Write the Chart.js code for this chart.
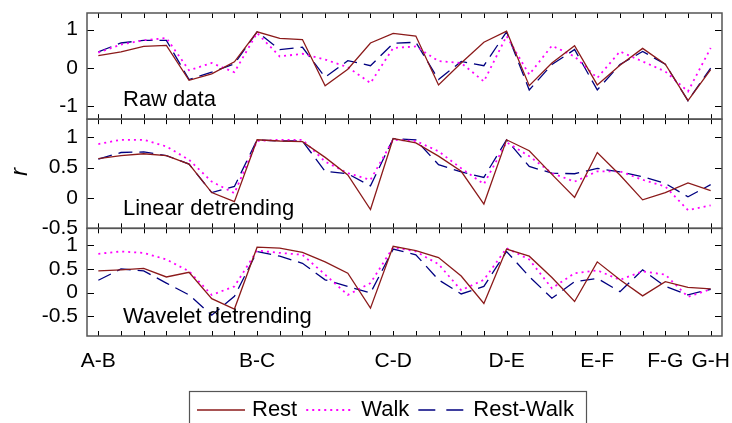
<!DOCTYPE html>
<html>
<head>
    <title>Correlation by segment</title>
    <script src="https://cdn.jsdelivr.net/npm/chart.js"></script>
    <style>
        body { margin: 0; background: #ffffff; }
    </style>
</head>
<body>
    <canvas id="corrChart" width="732" height="423"></canvas>
    <script>
    // one label per segment pair, only the first of each group is printed
    const segments = ['A-B', '', '', '', '', '', '',
                      'B-C', '', '', '', '', '',
                      'C-D', '', '', '', '',
                      'D-E', '', '', '',
                      'E-F', '', '',
                      'F-G', '',
                      'G-H'];

    const seriesNames = ['Rest', 'Walk', 'Rest-Walk'];
    const panelNames = ['Raw data', 'Linear detrending', 'Wavelet detrending'];

    const rawRest = [0.32, 0.42, 0.56, 0.59, -0.32, -0.15, 0.16, 0.94, 0.77, 0.74, -0.46, -0.03, 0.65, 0.90,
                     0.83, -0.44, 0.13, 0.67, 0.96, -0.46, 0.13, 0.58, -0.44, 0.07, 0.51, 0.10, -0.85, -0.04];
    const rawWalk = [0.40, 0.61, 0.72, 0.78, -0.06, 0.13, -0.11, 0.91, 0.30, 0.37, 0.22, 0.02, -0.39, 0.52,
                     0.56, 0.18, 0.13, -0.35, 0.83, -0.17, 0.58, 0.30, -0.26, 0.43, 0.17, -0.09, -0.61, 0.52];
    const rawRestWalk = [0.42, 0.65, 0.72, 0.72, -0.30, -0.11, 0.11, 0.94, 0.48, 0.54, -0.24, 0.19, 0.06, 0.64,
                         0.67, -0.30, 0.17, 0.06, 0.94, -0.57, 0.09, 0.48, -0.57, 0.09, 0.43, 0.10, -0.85, 0.00];

    const linRest = [0.65, 0.70, 0.73, 0.70, 0.56, 0.09, -0.06, 0.96, 0.94, 0.93, 0.67, 0.38, -0.19, 0.98,
                     0.91, 0.69, 0.44, -0.10, 0.96, 0.78, 0.39, 0.01, 0.75, 0.38, -0.03, 0.09, 0.25, 0.12];
    const linWalk = [0.89, 0.96, 0.96, 0.85, 0.63, 0.27, 0.08, 0.94, 0.96, 0.96, 0.60, 0.41, 0.30, 0.96,
                     0.94, 0.77, 0.49, 0.23, 0.92, 0.69, 0.41, 0.27, 0.44, 0.44, 0.30, 0.19, -0.20, -0.12];
    const linRestWalk = [0.64, 0.75, 0.76, 0.70, 0.56, 0.09, 0.19, 0.96, 0.94, 0.94, 0.44, 0.40, 0.20, 0.98,
                         0.96, 0.55, 0.43, 0.34, 0.96, 0.52, 0.41, 0.40, 0.49, 0.43, 0.35, 0.24, 0.02, 0.22];

    const wavRest = [0.46, 0.48, 0.51, 0.33, 0.43, -0.13, -0.35, 0.96, 0.94, 0.85, 0.65, 0.41, -0.33, 0.98,
                     0.89, 0.74, 0.35, -0.23, 0.92, 0.77, 0.32, -0.19, 0.65, 0.27, -0.07, 0.23, 0.11, 0.08];
    const wavWalk = [0.82, 0.87, 0.84, 0.70, 0.45, -0.05, 0.13, 0.89, 0.84, 0.80, 0.38, -0.05, 0.20, 0.96,
                     0.87, 0.60, 0.05, 0.27, 0.94, 0.70, 0.09, 0.41, 0.47, 0.27, 0.45, 0.38, -0.09, 0.07];
    const wavRestWalk = [0.26, 0.50, 0.46, 0.20, -0.05, -0.48, -0.08, 0.87, 0.77, 0.62, 0.27, 0.13, -0.01, 0.92,
                         0.80, 0.27, -0.03, 0.13, 0.87, 0.34, -0.12, 0.23, 0.30, 0.02, 0.48, 0.13, -0.05, 0.07];

    const rawTicks = [-1, 0, 1];
    const linTicks = [-0.5, 0, 0.5, 1];
    const wavTicks = [-0.5, 0, 0.5, 1];

    const FONT = '"Liberation Sans", Arial, sans-serif';
    const colors = ['#8b1a1a', '#ff00ff', '#000080'];
    const dashes = [[], [2, 4], [14, 7]];

    const panels = [
        { id: 'yRaw', data: [rawRest, rawWalk, rawRestWalk], ticks: rawTicks, min: -1.33, max: 1.43, h: 106, w: 3 },
        { id: 'yLin', data: [linRest, linWalk, linRestWalk], ticks: linTicks, min: -0.5, max: 1.3, h: 109, w: 2 },
        { id: 'yWav', data: [wavRest, wavWalk, wavRestWalk], ticks: wavTicks, min: -0.92, max: 1.36, h: 107.5, w: 1 }
    ];

    const datasets = [];
    panels.forEach(p => {
        p.data.forEach((values, k) => {
            datasets.push({
                label: seriesNames[k],
                data: values,
                yAxisID: p.id,
                borderColor: colors[k],
                backgroundColor: colors[k],
                borderDash: dashes[k],
                borderWidth: k === 1 ? 1.8 : 1.3,
                pointRadius: 0,
                tension: 0,
                fill: false
            });
        });
    });

    const scales = {
        x: {
            type: 'category',
            offset: true,
            grid: { display: false, drawTicks: false },
            border: { display: false },
            ticks: { autoSkip: false, maxRotation: 0, padding: 13, color: '#000', font: { size: 21, family: FONT } },
            afterFit: s => { s.height = 87; s.paddingLeft = 0; s.paddingRight = 0; }
        }
    };
    panels.forEach(p => {
        scales[p.id] = {
            type: 'linear',
            position: 'left',
            stack: 'panels',
            stackWeight: p.h,
            weight: p.w,
            min: p.min,
            max: p.max,
            grid: { display: false, drawTicks: false },
            border: { display: false },
            ticks: {
                autoSkip: false, padding: 9, color: '#000', font: { size: 21, family: FONT },
                callback: v => String(v)
            },
            afterBuildTicks: s => { s.ticks = p.ticks.map(v => ({ value: v })); },
            afterFit: s => { s.width = 87; s.paddingTop = 0; s.paddingBottom = 0; }
        };
    });

    // frames, inward tick marks, panel names, axis title and the boxed legend
    const decorations = {
        id: 'decorations',
        afterDatasetsDraw(chart) {
            const ctx = chart.ctx;
            const area = chart.chartArea;
            const xs = chart.scales.x;
            ctx.save();
            panels.forEach((p, n) => {
                const s = chart.scales[p.id];
                ctx.strokeStyle = '#000';
                ctx.lineWidth = 1;
                ctx.setLineDash([]);
                ctx.beginPath();
                for (let i = 0; i < xs.ticks.length; i++) {
                    const px = Math.round(xs.getPixelForTick(i)) + 0.5;
                    ctx.moveTo(px, s.top);
                    ctx.lineTo(px, s.top + 5);
                    ctx.moveTo(px, s.bottom);
                    ctx.lineTo(px, s.bottom - 5);
                }
                s.ticks.forEach(t => {
                    const py = Math.round(s.getPixelForValue(t.value)) + 0.5;
                    ctx.moveTo(area.left, py);
                    ctx.lineTo(area.left + 7, py);
                    ctx.moveTo(area.right, py);
                    ctx.lineTo(area.right - 7, py);
                });
                ctx.stroke();
                ctx.strokeStyle = '#555';
                ctx.lineWidth = 1.5;
                ctx.strokeRect(area.left, s.top, area.right - area.left, s.bottom - s.top);

                ctx.fillStyle = '#000';
                ctx.font = '22px ' + FONT;
                ctx.textAlign = 'left';
                ctx.textBaseline = 'alphabetic';
                ctx.fillText(panelNames[n], area.left + 36, s.bottom - 13);
            });

            // y title
            ctx.save();
            ctx.translate(20, 172);
            ctx.rotate(-Math.PI / 2);
            ctx.font = 'italic 24px ' + FONT;
            ctx.textAlign = 'center';
            ctx.textBaseline = 'middle';
            ctx.fillText('r', 0, 0);
            ctx.restore();

            // legend
            ctx.strokeStyle = '#555';
            ctx.lineWidth = 1.2;
            ctx.strokeRect(189.5, 391.5, 397, 40);
            ctx.font = '22px ' + FONT;
            ctx.textBaseline = 'middle';
            const ly = 410;
            let lx = 197;
            seriesNames.forEach((name, k) => {
                ctx.strokeStyle = colors[k];
                ctx.lineWidth = k === 1 ? 1.8 : 1.3;
                ctx.setLineDash(k === 2 ? [17, 11] : dashes[k]);
                ctx.beginPath();
                ctx.moveTo(lx, ly);
                ctx.lineTo(lx + 48, ly);
                ctx.stroke();
                ctx.setLineDash([]);
                lx += 48 + 7;
                ctx.fillStyle = '#000';
                ctx.fillText(name, lx, ly);
                lx += ctx.measureText(name).width + 9;
            });
            ctx.restore();
        }
    };

    const ctx = document.getElementById('corrChart').getContext('2d');
    const chart = new Chart(ctx, {
        type: 'line',
        data: { labels: segments, datasets: datasets },
        options: {
            responsive: false,
            animation: false,
            layout: { padding: { top: 13, right: 10, left: 0, bottom: 0 } },
            plugins: { legend: { display: false }, tooltip: { enabled: false } },
            scales: scales
        },
        plugins: [decorations]
    });
    </script>
</body>
</html>
